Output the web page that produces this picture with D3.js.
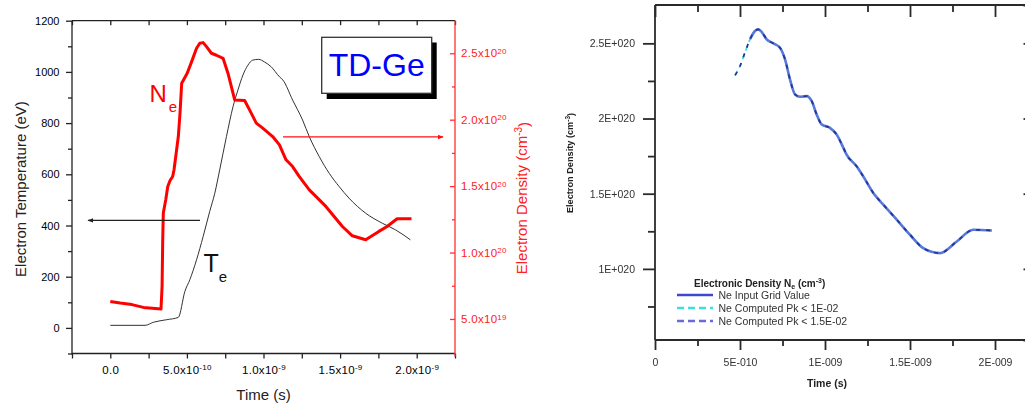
<!DOCTYPE html>
<html>
<head>
<meta charset="utf-8">
<script src="https://cdn.jsdelivr.net/npm/d3@7/dist/d3.min.js"></script>
<style>
  html, body { margin: 0; padding: 0; background: #fff; }
  svg { display: block; font-family: "Liberation Sans", Arial, sans-serif; }
</style>
</head>
<body>
<svg id="chart" width="1025" height="408"></svg>
<script>
// ---------- Left panel: electron temperature and density (time in ns) ----------
const teTime  = [0, 0.227, 0.281, 0.368, 0.444, 0.487, 0.519, 0.563, 0.606, 0.649, 0.682, 0.714,
                 0.758, 0.801, 0.833, 0.866, 0.898, 0.930, 0.969, 1.006, 1.050, 1.104, 1.127, 1.190,
                 1.255, 1.299, 1.364, 1.429, 1.494, 1.558, 1.667, 1.775, 1.862, 1.959];
const teValue = [10, 10, 22, 32, 41, 143, 188, 266, 357, 455, 526, 617,
                 747, 864, 929, 988, 1026, 1046, 1049, 1039, 1020, 981, 968, 890,
                 812, 747, 669, 604, 552, 507, 448, 409, 383, 344];

// electron density, units of 1e20 cm^-3
const neTime  = [0, 0.065, 0.141, 0.216, 0.331, 0.338, 0.342, 0.346, 0.362, 0.375, 0.390, 0.407,
                 0.416, 0.444, 0.455, 0.466, 0.502, 0.531, 0.563, 0.584, 0.606, 0.628, 0.660, 0.693,
                 0.736, 0.768, 0.812, 0.877, 0.909, 0.953, 0.995, 1.060, 1.104, 1.147, 1.190, 1.234,
                 1.299, 1.407, 1.515, 1.580, 1.667, 1.753, 1.807, 1.872, 1.966];
const neValue = [0.632, 0.620, 0.608, 0.587, 0.575, 0.745, 1.083, 1.297, 1.397, 1.497, 1.542, 1.572,
                 1.623, 1.873, 2.049, 2.274, 2.350, 2.437, 2.538, 2.575, 2.580, 2.550, 2.500, 2.485,
                 2.462, 2.350, 2.149, 2.144, 2.074, 1.974, 1.936, 1.873, 1.810, 1.698, 1.647, 1.572,
                 1.472, 1.347, 1.196, 1.126, 1.096, 1.159, 1.196, 1.254, 1.254];

const tempTicks = [0, 200, 400, 600, 800, 1000, 1200];
const tempMinor = [-100, 100, 300, 500, 700, 900, 1100];
const timeMajor = [0, 0.5, 1.0, 1.5, 2.0];
const timeMinor = [-0.25, 0.25, 0.75, 1.25, 1.75, 2.25];
const timeMant  = ["0.0", "5.0x10", "1.0x10", "1.5x10", "2.0x10"];
const timeExp   = ["", "-10", "-9", "-9", "-9"];
const densTicks = [0.5, 1.0, 1.5, 2.0, 2.5];
const densMinor = [0.75, 1.25, 1.75, 2.25];
const densMant  = ["5.0x10", "1.0x10", "1.5x10", "2.0x10", "2.5x10"];
const densExp   = ["19", "20", "20", "20", "20"];

// ---------- Right panel: electronic density fit (time in ns, density in 1e20 cm^-3) ----------
const fitTime    = [0.471, 0.500, 0.529, 0.559, 0.588, 0.608, 0.628, 0.657, 0.696, 0.735, 0.765, 0.794,
                    0.824, 0.853, 0.892, 0.922, 0.951, 0.981, 1.029, 1.069, 1.108, 1.127, 1.186, 1.225,
                    1.284, 1.343, 1.422, 1.500, 1.578, 1.676, 1.775, 1.872, 1.981];
const fitDensity = [2.287, 2.349, 2.438, 2.527, 2.582, 2.593, 2.575, 2.527, 2.500, 2.471, 2.393, 2.260,
                    2.160, 2.145, 2.149, 2.115, 2.027, 1.960, 1.938, 1.893, 1.805, 1.760, 1.682, 1.615,
                    1.505, 1.427, 1.327, 1.227, 1.138, 1.105, 1.182, 1.260, 1.255];
const gridStartNs = 0.53;
const rTimeTicks  = [0, 0.5, 1.0, 1.5, 2.0];
const rTimeMinor  = [0.25, 0.75, 1.25, 1.75];
const rTimeLabels = ["0", "5E-010", "1E-009", "1.5E-009", "2E-009"];
const rDensTicks  = [1.0, 1.5, 2.0, 2.5];
const rDensMinor  = [0.75, 1.25, 1.75, 2.25];
const rDensLabels = ["1E+020", "1.5E+020", "2E+020", "2.5E+020"];
const legendNames = ["Ne Input Grid Value", "Ne Computed Pk < 1E-02", "Ne Computed Pk < 1.5E-02"];

const svg = d3.select("#chart");

// helper: tick label with a superscript exponent
function sciText(text, mant, exp, supSize) {
  text.each(function(d, i) {
    const t = d3.select(this).text("");
    t.append("tspan").text(mant[i]);
    if (exp[i]) {
      t.append("tspan").attr("dy", "-0.45em").attr("font-size", supSize).text(exp[i]);
    }
  });
}

// ================= LEFT PANEL =================
const L = { left: 72, right: 455, top: 20.7, bottom: 353.5 };
const xL = d3.scaleLinear().domain([-0.25, 2.25]).range([L.left, L.right]);
const yT = d3.scaleLinear().domain([-100, 1200]).range([L.bottom, L.top]);
const yN = d3.scaleLinear().domain([0.24, 2.745]).range([L.bottom, L.top]);

const left = svg.append("g");

// frame lines
left.append("line").attr("x1", L.left).attr("x2", L.right).attr("y1", L.top).attr("y2", L.top)
  .attr("stroke", "#222").attr("stroke-width", 1.3);

// left temperature axis
const gTL = left.append("g").attr("transform", `translate(${L.left},0)`)
  .call(d3.axisLeft(yT).tickValues(tempTicks).tickSize(6).tickPadding(6.5).tickFormat(d3.format("d")));
left.append("g").attr("transform", `translate(${L.left},0)`)
  .call(d3.axisLeft(yT).tickValues(tempMinor).tickSize(4).tickFormat(""))
  .select(".domain").remove();
gTL.select(".domain").attr("d", `M0,${L.top}V${L.bottom + 1}`);

// bottom time axis
const gB = left.append("g").attr("transform", `translate(0,${L.bottom})`)
  .call(d3.axisBottom(xL).tickValues(timeMajor).tickSize(5).tickPadding(7));
gB.selectAll(".tick text").call(sciText, timeMant, timeExp, "8px");
gB.select(".domain").attr("d", `M${L.left},0H${L.right}`);
left.append("g").attr("transform", `translate(0,${L.bottom})`)
  .call(d3.axisBottom(xL).tickValues(timeMinor).tickSize(5).tickFormat(""))
  .select(".domain").remove();

// top inner ticks
left.append("g").attr("transform", `translate(0,${L.top})`)
  .call(d3.axisTop(xL).tickValues(timeMajor.concat(timeMinor)).tickSize(-4.5).tickFormat(""))
  .select(".domain").remove();

[gTL, gB].forEach(g => {
  g.selectAll("path, line").attr("stroke", "#222").attr("stroke-width", 1.3);
  g.selectAll("text").attr("fill", "#000").attr("font-size", "11px")
    .attr("font-family", "'Liberation Sans', Arial, sans-serif");
});
left.selectAll("g.tick line").attr("stroke", "#222").attr("stroke-width", 1.3);
gB.selectAll("text").attr("font-size", "11.5px").attr("letter-spacing", "0.3px");

// right density axis (red)
const gR = left.append("g").attr("transform", `translate(${L.right},0)`)
  .call(d3.axisRight(yN).tickValues(densTicks).tickSize(-5).tickPadding(6));
gR.selectAll(".tick text").call(sciText, densMant, densExp, "8px");
gR.select(".domain").attr("d", `M0,${L.top}V${L.bottom + 3}`);
const gRm = left.append("g").attr("transform", `translate(${L.right},0)`)
  .call(d3.axisRight(yN).tickValues(densMinor).tickSize(-3).tickFormat(""));
gRm.select(".domain").remove();
[gR, gRm].forEach(g => {
  g.selectAll("path, line").attr("stroke", "#ff3030").attr("stroke-width", 1.3);
  g.selectAll("text").attr("fill", "#ff2020").attr("font-size", "11.5px").attr("letter-spacing", "0.3px")
    .attr("font-family", "'Liberation Sans', Arial, sans-serif");
});

// axis titles
left.append("text").attr("transform", `translate(26,${(L.top + L.bottom) / 2 + 2}) rotate(-90)`)
  .attr("text-anchor", "middle").attr("font-size", "15px").attr("fill", "#222")
  .text("Electron Temperature (eV)");
left.append("text").attr("x", xL(1.0)).attr("y", 400)
  .attr("text-anchor", "middle").attr("font-size", "15px").attr("fill", "#222")
  .text("Time (s)");
const rt = left.append("text").attr("transform", `translate(526.5,${(L.top + L.bottom) / 2 + 11}) rotate(-90)`)
  .attr("text-anchor", "middle").attr("font-size", "15px").attr("fill", "#ff2020");
rt.append("tspan").text("Electron Density (cm");
rt.append("tspan").attr("dy", "-0.5em").attr("font-size", "10px").text("-3");
rt.append("tspan").attr("dy", "0.5em").text(")");

// curves
const teLine = d3.line().x((d, i) => xL(teTime[i])).y(d => yT(d)).curve(d3.curveMonotoneX);
left.append("path").attr("d", teLine(teValue)).attr("fill", "none")
  .attr("stroke", "#333").attr("stroke-width", 1);
const neLine = d3.line().x((d, i) => xL(neTime[i])).y(d => yN(d));
left.append("path").attr("d", neLine(neValue)).attr("fill", "none")
  .attr("stroke", "#ff0000").attr("stroke-width", 3).attr("stroke-linejoin", "round");

// arrows pointing to each curve's axis
const defs = svg.append("defs");
[["arrBlack", "#222"], ["arrRed", "#ff1010"]].forEach(([id, c]) => {
  defs.append("marker").attr("id", id).attr("viewBox", "0 0 10 10").attr("refX", 9).attr("refY", 5)
    .attr("markerWidth", 5).attr("markerHeight", 5).attr("orient", "auto-start-reverse")
    .append("path").attr("d", "M0,1L10,5L0,9Z").attr("fill", c);
});
left.append("line").attr("x1", 200).attr("x2", 88).attr("y1", yT(420)).attr("y2", yT(420))
  .attr("stroke", "#222").attr("stroke-width", 1.2).attr("marker-end", "url(#arrBlack)");
left.append("line").attr("x1", 283).attr("x2", 443).attr("y1", yN(1.87)).attr("y2", yN(1.87))
  .attr("stroke", "#ff1010").attr("stroke-width", 1.2).attr("marker-end", "url(#arrRed)");

// curve labels
const neLbl = left.append("text").attr("x", 149.5).attr("y", 101.7).attr("fill", "#ff0000").attr("font-size", "24px");
neLbl.append("tspan").text("N");
neLbl.append("tspan").attr("dx", "2").attr("dy", "10").attr("font-size", "15px").text("e");
const teLbl = left.append("text").attr("x", 203.5).attr("y", 271.7).attr("fill", "#111").attr("font-size", "25px");
teLbl.append("tspan").text("T");
teLbl.append("tspan").attr("dx", "0").attr("dy", "10").attr("font-size", "15px").text("e");

// title box with drop shadow
left.append("rect").attr("x", 326.7).attr("y", 42.5).attr("width", 110).attr("height", 56.5).attr("fill", "#000");
left.append("rect").attr("x", 321.7).attr("y", 37.3).attr("width", 110).attr("height", 56).attr("fill", "#fff")
  .attr("stroke", "#333").attr("stroke-width", 1.3);
left.append("text").attr("x", 376.7).attr("y", 75.5).attr("text-anchor", "middle")
  .attr("font-size", "32px").attr("fill", "#0000ff").text("TD-Ge");

// ================= RIGHT PANEL =================
const R = { left: 655, right: 1037.5, top: 5, bottom: 340 };
const xR = d3.scaleLinear().domain([0, 2.25]).range([R.left, R.right]);
const yR = d3.scaleLinear().domain([0.527, 2.755]).range([R.bottom, R.top]);

defs.append("filter").attr("id", "soft").append("feGaussianBlur").attr("stdDeviation", 0.45);
const right = svg.append("g").attr("filter", "url(#soft)");
const axC = "#2a2a2a";

const gRy = right.append("g").attr("transform", `translate(${R.left},0)`)
  .call(d3.axisLeft(yR).tickValues(rDensTicks).tickSize(12).tickPadding(8).tickFormat((d, i) => rDensLabels[i]));
gRy.select(".domain").attr("d", `M0,${R.top}V${R.bottom}`);
right.append("g").attr("transform", `translate(${R.left},0)`)
  .call(d3.axisLeft(yR).tickValues(rDensMinor).tickSize(7).tickFormat("")).select(".domain").remove();

const gRx = right.append("g").attr("transform", `translate(0,${R.bottom})`)
  .call(d3.axisBottom(xR).tickValues(rTimeTicks).tickSize(10).tickPadding(9).tickFormat((d, i) => rTimeLabels[i]));
gRx.select(".domain").attr("d", `M${R.left},0H${R.right}`);
right.append("g").attr("transform", `translate(0,${R.bottom})`)
  .call(d3.axisBottom(xR).tickValues(rTimeMinor).tickSize(6).tickFormat("")).select(".domain").remove();

const gRt = right.append("g").attr("transform", `translate(0,${R.top})`)
  .call(d3.axisTop(xR).tickValues(rTimeTicks).tickSize(-12).tickFormat(""));
gRt.select(".domain").attr("d", `M${R.left},0H${R.right}`);
right.append("g").attr("transform", `translate(0,${R.top})`)
  .call(d3.axisTop(xR).tickValues(rTimeMinor).tickSize(-7).tickFormat("")).select(".domain").remove();

const gRr = right.append("g").attr("transform", `translate(${R.right},0)`)
  .call(d3.axisRight(yR).tickValues(rDensTicks).tickSize(-14).tickFormat(""));
right.append("g").attr("transform", `translate(${R.right},0)`)
  .call(d3.axisRight(yR).tickValues(rDensMinor).tickSize(-8).tickFormat("")).select(".domain").remove();

right.selectAll("path.domain, g.tick line").attr("stroke", axC).attr("stroke-width", 1.8);
right.selectAll("g.tick text").attr("fill", "#333").attr("font-size", "10.5px")
  .attr("font-family", "'Liberation Sans', Arial, sans-serif");

// right-panel titles
right.append("text").attr("x", xR(1.0) + 2).attr("y", 386.5).attr("text-anchor", "middle")
  .attr("font-size", "10.5px").attr("font-weight", "bold").attr("fill", "#222").text("Time (s)");
const ry = right.append("text").attr("transform", `translate(573,163) rotate(-90)`)
  .attr("text-anchor", "middle").attr("font-size", "9.2px").attr("font-weight", "bold").attr("fill", "#222");
ry.append("tspan").text("Electron Density (cm");
ry.append("tspan").attr("dy", "-0.45em").attr("font-size", "6.5px").text("-3");
ry.append("tspan").attr("dy", "0.45em").text(")");

// density curves
const fitLine = d3.line().x(d => xR(d[0])).y(d => yR(d[1])).curve(d3.curveMonotoneX);
const computed = fitTime.map((t, i) => [t, fitDensity[i]]);
const grid = computed.filter(d => d[0] >= gridStartNs);
right.append("path").attr("d", fitLine(computed)).attr("fill", "none")
  .attr("stroke", "#40dede").attr("stroke-width", 1.8).attr("stroke-dasharray", "5,4");
right.append("path").attr("d", fitLine(grid)).attr("fill", "none")
  .attr("stroke", "#5878dc").attr("stroke-width", 2.6);
right.append("path").attr("d", fitLine(computed)).attr("fill", "none")
  .attr("stroke", "#26348f").attr("stroke-width", 1.7).attr("stroke-dasharray", "4,6");

// legend
const lg = right.append("g");
const lt = lg.append("text").attr("x", 694).attr("y", 286.5).attr("font-size", "10px")
  .attr("font-weight", "bold").attr("fill", "#222");
lt.append("tspan").text("Electronic Density N");
lt.append("tspan").attr("dy", "2").attr("font-size", "7px").text("e");
lt.append("tspan").attr("dy", "-2").text(" (cm");
lt.append("tspan").attr("dy", "-3.5").attr("font-size", "7px").text("-3");
lt.append("tspan").attr("dy", "3.5").text(")");
const legStyles = [
  { c: "#3a48cc", dash: null },
  { c: "#3ee0e0", dash: "7,4" },
  { c: "#6a6ad8", dash: "7,4" }
];
legendNames.forEach((name, i) => {
  const y = 295 + i * 13;
  lg.append("line").attr("x1", 677).attr("x2", 713).attr("y1", y).attr("y2", y)
    .attr("stroke", legStyles[i].c).attr("stroke-width", 2.4)
    .attr("stroke-dasharray", legStyles[i].dash);
  lg.append("text").attr("x", 718.5).attr("y", y + 3.8).attr("font-size", "10.5px")
    .attr("fill", "#333").text(name);
});
</script>
</body>
</html>
